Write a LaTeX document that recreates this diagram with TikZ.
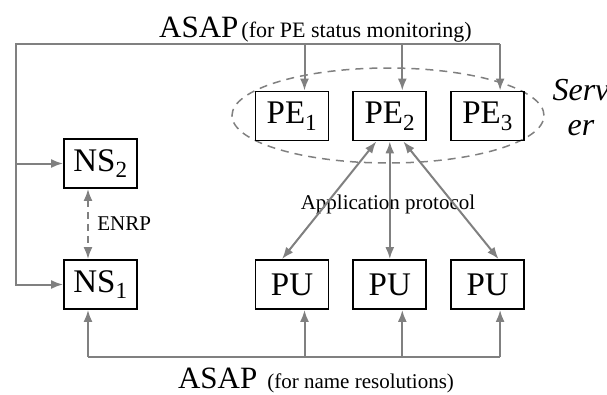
\documentclass[tikz,border=0pt]{standalone}
\usepackage{fontspec}
\setmainfont{Liberation Serif}
\usetikzlibrary{positioning, arrows.meta, shapes.geometric, calc}
\usepackage{xcolor}
\definecolor{wiregray}{RGB}{128,128,128}

\begin{document}
\begin{tikzpicture}[x=1pt, y=-1pt,
    box/.style={draw, rectangle, line width=1.8pt, minimum width=73pt, minimum height=49pt, inner sep=0pt, font=\fontsize{33}{36}\selectfont},
    pool/.style={draw=wiregray, ellipse, line width=1.5pt, dash pattern=on 8pt off 6pt, minimum width=312pt, minimum height=95pt},
    wire/.style={wiregray, line width=2pt},
    arrow/.style={wire, -{Latex[length=12pt, width=9pt]}},
    biarrow/.style={wire, {Latex[length=12pt, width=9pt]}-{Latex[length=12pt, width=9pt]}},
    lbl/.style={text=black, font=\fontsize{21}{24}\selectfont}
]
\useasboundingbox (0,0) rectangle (607,394);

% Nodes
\node[pool] (pool) at (388,115.5) {};
\node[box] (pe1) at (292,116) {PE\textsubscript{1}};
\node[box, right=23pt of pe1] (pe2) {PE\textsubscript{2}};
\node[box, right=23pt of pe2] (pe3) {PE\textsubscript{3}};
\node[box] (pu1) at (292,284.5) {PU};
\node[box, right=23pt of pu1] (pu2) {PU};
\node[box, right=23pt of pu2] (pu3) {PU};
\node[box] (ns2) at (100.5,163.5) {NS\textsubscript{2}};
\node[box] (ns1) at (100.5,284.5) {NS\textsubscript{1}};
\node[align=center, font=\fontsize{32}{35}\selectfont\itshape] (server) at (581,108) {Serv\\er};
\node[lbl] (app) at (388,204) {Application protocol};
\node[anchor=base] (asaptop) at (315.5,37) {\fontsize{31}{34}\selectfont ASAP\hspace{3pt}\fontsize{22}{24}\selectfont (for PE status monitoring)};
\node[anchor=base] (asapbot) at (316,388) {\fontsize{31}{34}\selectfont ASAP\hspace{10pt}\fontsize{21}{24}\selectfont (for name resolutions)};

% Edges
\coordinate (topleft) at (16,44);
\coordinate (botline) at (0,357);
\foreach \n in {pe1,pe2,pe3}{
  \coordinate (\n-in) at ([xshift=12.5pt]\n.north);
  \draw[arrow] (topleft -| \n-in) -- (\n-in);
}
\draw[arrow] (pe3-in |- topleft) -- (topleft) |- (ns1);
\draw[arrow] (topleft |- ns2) -- (ns2);

\coordinate (ns1-in) at ([xshift=-12.5pt]ns1.south);
\foreach \n in {pu1,pu2,pu3}
  \coordinate (\n-in) at ([xshift=12.5pt]\n.south);
\draw[wire] (ns1-in |- botline) -- (pu3-in |- botline);
\foreach \n in {ns1,pu1,pu2,pu3}
  \draw[arrow] (\n-in |- botline) -- (\n-in);

\draw[biarrow, dash pattern=on 7pt off 5pt] ([xshift=-12.5pt]ns2.south) -- ([xshift=-12.5pt]ns1.north) node[midway, right=5pt, lbl] {ENRP};

\draw[biarrow] ([xshift=-13.5pt]pe2.south) -- ([xshift=-10pt]pu1.north);
\draw[biarrow] (pe2.south) -- (pu2.north);
\draw[biarrow] ([xshift=13.5pt]pe2.south) -- ([xshift=11pt]pu3.north);

\end{tikzpicture}
\end{document}
